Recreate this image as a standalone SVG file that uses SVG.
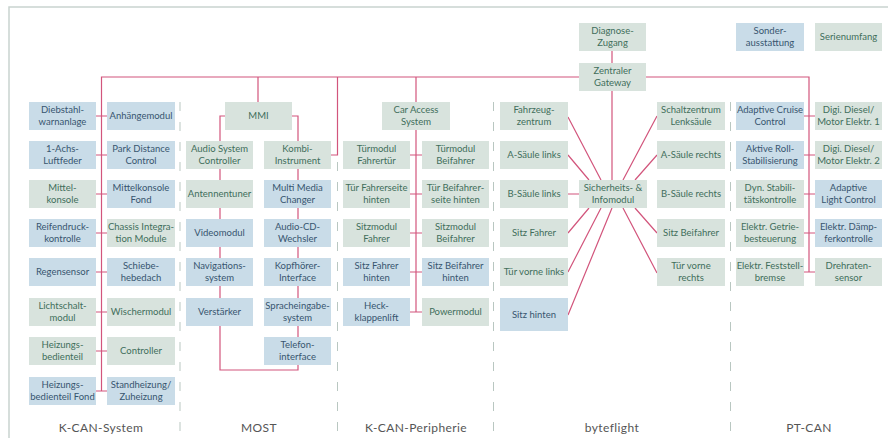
<svg xmlns="http://www.w3.org/2000/svg" width="888" height="438" viewBox="0 0 888 438">
<style>
.g{fill:#d8e3dd}
.b{fill:#c9dce8}
text{font-family:Lato,"Open Sans","Liberation Sans",sans-serif;font-size:9.5px;text-anchor:middle}
.tg{fill:#416e5b}
.tb{fill:#37556f}
.bus{fill:none;stroke:#d2557c;stroke-width:1.2}
.sep{stroke:#b9c7c1;stroke-width:1;stroke-dasharray:9 11}
.lbl{font-size:12px;fill:#555;letter-spacing:0.4px}
</style>
<rect x="0" y="0" width="888" height="438" fill="#fff"/>
<path d="M888 7H9V438" fill="none" stroke="#c9d4cf" stroke-width="1.5"/>
<g id="separators">
<line class="sep" x1="180" y1="102" x2="180" y2="438"/>
<line class="sep" x1="337.5" y1="162" x2="337.5" y2="438"/>
<line class="sep" x1="493.5" y1="102" x2="493.5" y2="438"/>
<line class="sep" x1="730.5" y1="102" x2="730.5" y2="438"/>
</g>
<g id="connectors" class="bus">
<path d="M101.5 391V77H579M646 77H809V272"/>
<path d="M258 77V102M337.5 77V155H331M416 77V102M416 130V312M612 51V63M612 91V180"/>
<path d="M96 116H107M96 155H107M96 194H107M96 233H107M96 272H107M96 312H107M96 351H107M96 391H107"/>
<path d="M225 116H220V370H298V116H292"/>
<path d="M410 155H422M410 194H422M410 233H422M410 272H422M410 312H422"/>
<path d="M804 116H815M804 155H815M804 194H815M804 233H815M804 272H815"/>
<path d="M568 117L601 180M568 155L589 180M568 194H579M657 116L623 180M657 155L635 180M568 233L589 208M568 272L601 208M568 315L612 208M657 233L635 208M657 273L623 208"/>
</g>
<g id="kcan-system">
<g id="n-diebstahl"><rect class="b" x="29" y="102" width="67" height="28"/><text class="tb" x="62.5" y="113.2">Diebstahl-</text><text class="tb" x="62.5" y="125.2">warnanlage</text></g>
<g id="n-achs"><rect class="b" x="29" y="141" width="67" height="28"/><text class="tb" x="62.5" y="152.2">1-Achs-</text><text class="tb" x="62.5" y="164.2">Luftfeder</text></g>
<g id="n-mittelkonsole"><rect class="g" x="29" y="180" width="67" height="28"/><text class="tg" x="62.5" y="191.2">Mittel-</text><text class="tg" x="62.5" y="203.2">konsole</text></g>
<g id="n-reifendruck"><rect class="b" x="29" y="219" width="67" height="28"/><text class="tb" x="62.5" y="230.2">Reifendruck-</text><text class="tb" x="62.5" y="242.2">kontrolle</text></g>
<g id="n-regensensor"><rect class="b" x="29" y="258" width="67" height="28"/><text class="tb" x="62.5" y="275.3">Regensensor</text></g>
<g id="n-lichtschalt"><rect class="g" x="29" y="298" width="67" height="28"/><text class="tg" x="62.5" y="309.2">Lichtschalt-</text><text class="tg" x="62.5" y="321.2">modul</text></g>
<g id="n-heizung"><rect class="g" x="29" y="337" width="67" height="28"/><text class="tg" x="62.5" y="348.2">Heizungs-</text><text class="tg" x="62.5" y="360.2">bedienteil</text></g>
<g id="n-heizungfond"><rect class="b" x="29" y="377" width="67" height="28"/><text class="tb" x="62.5" y="388.2">Heizungs-</text><text class="tb" x="62.5" y="400.2">bedienteil Fond</text></g>
<g id="n-anhaenge"><rect class="b" x="107" y="102" width="68" height="28"/><text class="tb" x="141" y="119.3">Anhängemodul</text></g>
<g id="n-pdc"><rect class="b" x="107" y="141" width="68" height="28"/><text class="tb" x="141" y="152.2">Park Distance</text><text class="tb" x="141" y="164.2">Control</text></g>
<g id="n-mkfond"><rect class="b" x="107" y="180" width="68" height="28"/><text class="tb" x="141" y="191.2">Mittelkonsole</text><text class="tb" x="141" y="203.2">Fond</text></g>
<g id="n-chassis"><rect class="g" x="107" y="219" width="68" height="28"/><text class="tg" x="141" y="230.2">Chassis Integra-</text><text class="tg" x="141" y="242.2">tion Module</text></g>
<g id="n-schiebe"><rect class="b" x="107" y="258" width="68" height="28"/><text class="tb" x="141" y="269.2">Schiebe-</text><text class="tb" x="141" y="281.2">hebedach</text></g>
<g id="n-wischer"><rect class="g" x="107" y="298" width="68" height="28"/><text class="tg" x="141" y="315.3">Wischermodul</text></g>
<g id="n-controller"><rect class="g" x="107" y="337" width="68" height="28"/><text class="tg" x="141" y="354.3">Controller</text></g>
<g id="n-standheizung"><rect class="b" x="107" y="377" width="68" height="28"/><text class="tb" x="141" y="388.2">Standheizung/</text><text class="tb" x="141" y="400.2">Zuheizung</text></g>
</g>
<g id="most">
<g id="n-mmi"><rect class="g" x="225" y="102" width="67" height="28"/><text class="tg" x="258.5" y="119.3">MMI</text></g>
<g id="n-audiosys"><rect class="g" x="186" y="141" width="67" height="28"/><text class="tg" x="219.5" y="152.2">Audio System</text><text class="tg" x="219.5" y="164.2">Controller</text></g>
<g id="n-antenne"><rect class="g" x="186" y="180" width="67" height="28"/><text class="tg" x="219.5" y="197.3">Antennentuner</text></g>
<g id="n-video"><rect class="b" x="186" y="219" width="67" height="28"/><text class="tb" x="219.5" y="236.3">Videomodul</text></g>
<g id="n-navi"><rect class="b" x="186" y="258" width="67" height="28"/><text class="tb" x="219.5" y="269.2">Navigations-</text><text class="tb" x="219.5" y="281.2">system</text></g>
<g id="n-verstaerker"><rect class="b" x="186" y="298" width="67" height="28"/><text class="tb" x="219.5" y="315.3">Verstärker</text></g>
<g id="n-kombi"><rect class="g" x="264" y="141" width="67" height="28"/><text class="tg" x="297.5" y="152.2">Kombi-</text><text class="tg" x="297.5" y="164.2">Instrument</text></g>
<g id="n-multimedia"><rect class="b" x="264" y="180" width="67" height="28"/><text class="tb" x="297.5" y="191.2">Multi Media</text><text class="tb" x="297.5" y="203.2">Changer</text></g>
<g id="n-audiocd"><rect class="b" x="264" y="219" width="67" height="28"/><text class="tb" x="297.5" y="230.2">Audio-CD-</text><text class="tb" x="297.5" y="242.2">Wechsler</text></g>
<g id="n-kopfhoerer"><rect class="b" x="264" y="258" width="67" height="28"/><text class="tb" x="297.5" y="269.2">Kopfhörer-</text><text class="tb" x="297.5" y="281.2">Interface</text></g>
<g id="n-sprache"><rect class="b" x="264" y="298" width="67" height="28"/><text class="tb" x="297.5" y="309.2">Spracheingabe-</text><text class="tb" x="297.5" y="321.2">system</text></g>
<g id="n-telefon"><rect class="b" x="264" y="337" width="67" height="28"/><text class="tb" x="297.5" y="348.2">Telefon-</text><text class="tb" x="297.5" y="360.2">interface</text></g>
</g>
<g id="kcan-peripherie">
<g id="n-cas"><rect class="g" x="382" y="102" width="68" height="28"/><text class="tg" x="416" y="113.2">Car Access</text><text class="tg" x="416" y="125.2">System</text></g>
<g id="n-tmfahrer"><rect class="g" x="343" y="141" width="67" height="28"/><text class="tg" x="376.5" y="152.2">Türmodul</text><text class="tg" x="376.5" y="164.2">Fahrertür</text></g>
<g id="n-tfhinten"><rect class="g" x="343" y="180" width="67" height="28"/><text class="tg" x="376.5" y="191.2">Tür Fahrerseite</text><text class="tg" x="376.5" y="203.2">hinten</text></g>
<g id="n-smfahrer"><rect class="g" x="343" y="219" width="67" height="28"/><text class="tg" x="376.5" y="230.2">Sitzmodul</text><text class="tg" x="376.5" y="242.2">Fahrer</text></g>
<g id="n-sfhinten"><rect class="b" x="343" y="258" width="67" height="28"/><text class="tb" x="376.5" y="269.2">Sitz Fahrer</text><text class="tb" x="376.5" y="281.2">hinten</text></g>
<g id="n-heck"><rect class="b" x="343" y="298" width="67" height="28"/><text class="tb" x="376.5" y="309.2">Heck-</text><text class="tb" x="376.5" y="321.2">klappenlift</text></g>
<g id="n-tmbeifahrer"><rect class="g" x="422" y="141" width="67" height="28"/><text class="tg" x="455.5" y="152.2">Türmodul</text><text class="tg" x="455.5" y="164.2">Beifahrer</text></g>
<g id="n-tbhinten"><rect class="g" x="422" y="180" width="67" height="28"/><text class="tg" x="455.5" y="191.2">Tür Beifahrer-</text><text class="tg" x="455.5" y="203.2">seite hinten</text></g>
<g id="n-smbeifahrer"><rect class="g" x="422" y="219" width="67" height="28"/><text class="tg" x="455.5" y="230.2">Sitzmodul</text><text class="tg" x="455.5" y="242.2">Beifahrer</text></g>
<g id="n-sbhinten"><rect class="b" x="422" y="258" width="67" height="28"/><text class="tb" x="455.5" y="269.2">Sitz Beifahrer</text><text class="tb" x="455.5" y="281.2">hinten</text></g>
<g id="n-power"><rect class="g" x="422" y="298" width="67" height="28"/><text class="tg" x="455.5" y="315.3">Powermodul</text></g>
</g>
<g id="byteflight">
<g id="n-diagnose"><rect class="g" x="579" y="23" width="67" height="28"/><text class="tg" x="612.5" y="34.2">Diagnose-</text><text class="tg" x="612.5" y="46.2">Zugang</text></g>
<g id="n-gateway"><rect class="g" x="579" y="63" width="67" height="28"/><text class="tg" x="612.5" y="74.2">Zentraler</text><text class="tg" x="612.5" y="86.2">Gateway</text></g>
<g id="n-sim"><rect class="g" x="579" y="180" width="68" height="28"/><text class="tg" x="613" y="191.2">Sicherheits- &amp;</text><text class="tg" x="613" y="203.2">Infomodul</text></g>
<g id="n-fzz"><rect class="g" x="500" y="102" width="68" height="28"/><text class="tg" x="534" y="113.2">Fahrzeug-</text><text class="tg" x="534" y="125.2">zentrum</text></g>
<g id="n-asl"><rect class="g" x="500" y="141" width="68" height="28"/><text class="tg" x="534" y="158.3">A-Säule links</text></g>
<g id="n-bsl"><rect class="g" x="500" y="180" width="68" height="28"/><text class="tg" x="534" y="197.3">B-Säule links</text></g>
<g id="n-sitzf"><rect class="g" x="500" y="219" width="68" height="28"/><text class="tg" x="534" y="236.3">Sitz Fahrer</text></g>
<g id="n-tvl"><rect class="g" x="500" y="258" width="68" height="28"/><text class="tg" x="534" y="275.3">Tür vorne links</text></g>
<g id="n-sitzh"><rect class="b" x="500" y="298" width="68" height="33"/><text class="tb" x="534" y="317.8">Sitz hinten</text></g>
<g id="n-szl"><rect class="g" x="657" y="102" width="68" height="28"/><text class="tg" x="691" y="113.2">Schaltzentrum</text><text class="tg" x="691" y="125.2">Lenksäule</text></g>
<g id="n-asr"><rect class="g" x="657" y="141" width="68" height="28"/><text class="tg" x="691" y="158.3">A-Säule rechts</text></g>
<g id="n-bsr"><rect class="g" x="657" y="180" width="68" height="28"/><text class="tg" x="691" y="197.3">B-Säule rechts</text></g>
<g id="n-sitzb"><rect class="g" x="657" y="219" width="68" height="28"/><text class="tg" x="691" y="236.3">Sitz Beifahrer</text></g>
<g id="n-tvr"><rect class="g" x="657" y="258" width="68" height="28"/><text class="tg" x="691" y="269.2">Tür vorne</text><text class="tg" x="691" y="281.2">rechts</text></g>
</g>
<g id="pt-can">
<g id="n-acc"><rect class="b" x="736" y="102" width="68" height="28"/><text class="tb" x="770" y="113.2">Adaptive Cruise</text><text class="tb" x="770" y="125.2">Control</text></g>
<g id="n-ars"><rect class="b" x="736" y="141" width="68" height="28"/><text class="tb" x="770" y="152.2">Aktive Roll-</text><text class="tb" x="770" y="164.2">Stabilisierung</text></g>
<g id="n-dsc"><rect class="g" x="736" y="180" width="68" height="28"/><text class="tg" x="770" y="191.2">Dyn. Stabili-</text><text class="tg" x="770" y="203.2">tätskontrolle</text></g>
<g id="n-egs"><rect class="g" x="736" y="219" width="68" height="28"/><text class="tg" x="770" y="230.2">Elektr. Getrie-</text><text class="tg" x="770" y="242.2">besteuerung</text></g>
<g id="n-efb"><rect class="g" x="736" y="258" width="68" height="28"/><text class="tg" x="770" y="269.2">Elektr. Feststell-</text><text class="tg" x="770" y="281.2">bremse</text></g>
<g id="n-dde1"><rect class="g" x="815" y="102" width="67" height="28"/><text class="tg" x="848.5" y="113.2">Digi. Diesel/</text><text class="tg" x="848.5" y="125.2">Motor Elektr. 1</text></g>
<g id="n-dde2"><rect class="g" x="815" y="141" width="67" height="28"/><text class="tg" x="848.5" y="152.2">Digi. Diesel/</text><text class="tg" x="848.5" y="164.2">Motor Elektr. 2</text></g>
<g id="n-alc"><rect class="b" x="815" y="180" width="67" height="28"/><text class="tb" x="848.5" y="191.2">Adaptive</text><text class="tb" x="848.5" y="203.2">Light Control</text></g>
<g id="n-edc"><rect class="b" x="815" y="219" width="67" height="28"/><text class="tb" x="848.5" y="230.2">Elektr. Dämp-</text><text class="tb" x="848.5" y="242.2">ferkontrolle</text></g>
<g id="n-drs"><rect class="g" x="815" y="258" width="67" height="28"/><text class="tg" x="848.5" y="269.2">Drehraten-</text><text class="tg" x="848.5" y="281.2">sensor</text></g>
</g>
<g id="legend">
<g id="n-sonder"><rect class="b" x="736" y="23" width="68" height="28"/><text class="tb" x="770" y="34.2">Sonder-</text><text class="tb" x="770" y="46.2">ausstattung</text></g>
<g id="n-serie"><rect class="g" x="815" y="23" width="67" height="28"/><text class="tg" x="848.5" y="40.3">Serienumfang</text></g>
</g>
<g id="labels">
<text class="lbl" x="101" y="432">K-CAN-System</text>
<text class="lbl" x="259" y="432">MOST</text>
<text class="lbl" x="416" y="432">K-CAN-Peripherie</text>
<text class="lbl" x="612" y="432">byteflight</text>
<text class="lbl" x="809" y="432">PT-CAN</text>
</g>
</svg>
